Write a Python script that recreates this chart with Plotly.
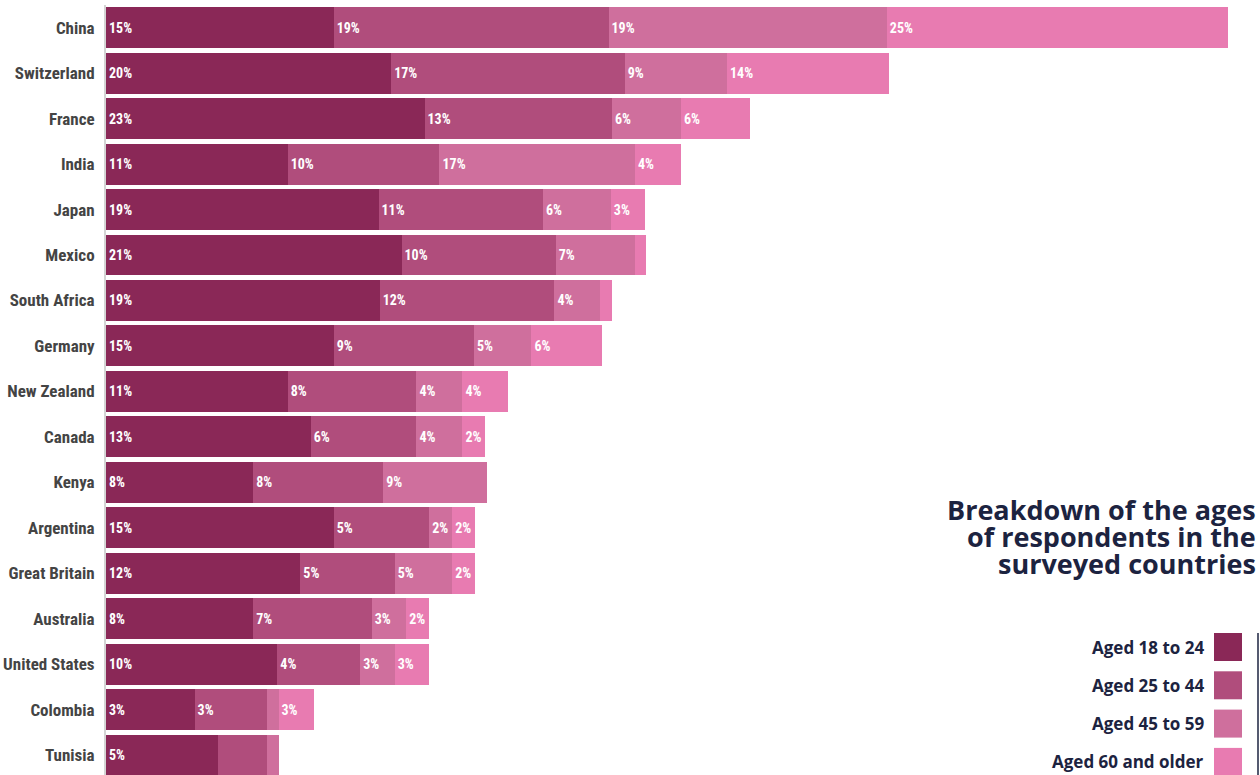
import plotly.graph_objects as go

# countries, top to bottom
countries = ["China", "Switzerland", "France", "India", "Japan", "Mexico", "South Africa",
             "Germany", "New Zealand", "Canada", "Kenya", "Argentina", "Great Britain",
             "Australia", "United States", "Colombia", "Tunisia"]

age_groups = ["Aged 18 to 24", "Aged 25 to 44", "Aged 45 to 59", "Aged 60 and older"]
colors = ["#8a2857", "#b04d7c", "#cf6f9d", "#e87bb1"]

# segment lengths as drawn in the picture
seg_18_24 = [19.8, 24.8, 27.7, 15.8, 23.7, 25.7, 23.8, 19.8, 15.8, 17.8, 12.8, 19.8, 16.9, 12.8, 14.9, 7.7, 9.7]
seg_25_44 = [23.9, 20.3, 16.3, 13.2, 14.3, 13.4, 15.2, 12.2, 11.2, 9.2, 11.3, 8.3, 8.2, 10.3, 7.2, 6.3, 4.3]
seg_45_59 = [24.2, 8.9, 6.0, 17.0, 5.9, 6.9, 4.0, 5.0, 4.0, 4.0, 9.0, 2.0, 5.0, 3.0, 3.0, 1.0, 1.0]
seg_60_up = [29.7, 14.1, 6.0, 4.0, 3.0, 1.0, 1.0, 6.1, 4.0, 2.0, 0.0, 2.0, 2.0, 2.0, 3.0, 3.1, 0.0]

# printed labels
lab_18_24 = ["15%", "20%", "23%", "11%", "19%", "21%", "19%", "15%", "11%", "13%", "8%", "15%", "12%", "8%", "10%", "3%", "5%"]
lab_25_44 = ["19%", "17%", "13%", "10%", "11%", "10%", "12%", "9%", "8%", "6%", "8%", "5%", "5%", "7%", "4%", "3%", ""]
lab_45_59 = ["19%", "9%", "6%", "17%", "6%", "7%", "4%", "5%", "4%", "4%", "9%", "2%", "5%", "3%", "3%", "", ""]
lab_60_up = ["25%", "14%", "6%", "4%", "3%", "", "", "6%", "4%", "2%", "", "2%", "2%", "2%", "3%", "3%", ""]

values = [seg_18_24, seg_25_44, seg_45_59, seg_60_up]
labels = [lab_18_24, lab_25_44, lab_45_59, lab_60_up]

cond = "Roboto Condensed, sans-serif"
wide = "Open Sans, sans-serif"
navy = "#1c2340"

fig = go.Figure()
for name, vals, labs, col in zip(age_groups, values, labels, colors):
    fig.add_trace(go.Bar(
        y=countries, x=vals, name=name, orientation="h",
        marker=dict(color=col, line=dict(width=0)),
        text=labs, textposition="inside", insidetextanchor="start",
        textangle=0, constraintext="none",
        textfont=dict(family=cond, size=14, color="white", weight="bold"),
        hoverinfo="skip", showlegend=False,
    ))

fig.update_layout(
    width=1260, height=775,
    barmode="stack", bargap=0.1,
    margin=dict(l=106, r=0, t=5, b=0),
    plot_bgcolor="white", paper_bgcolor="white",
    uniformtext=dict(minsize=14, mode="show"),
    xaxis=dict(range=[0, 100.35], visible=False, fixedrange=True),
    yaxis=dict(
        categoryorder="array", categoryarray=countries, automargin=False, fixedrange=True,
        range=[16.44, -0.5], showline=True, linecolor="#d4d4d4", linewidth=2,
        showgrid=False, zeroline=False, ticks="", ticklabelstandoff=6,
        tickfont=dict(family=cond, size=17, color="#444444", weight="bold"),
    ),
)

# title block
title_lines = ["Breakdown of the ages", "of respondents in the", "surveyed countries"]
for i, line in enumerate(title_lines):
    fig.add_annotation(
        text=line, xref="paper", yref="paper",
        x=(1258 - 106) / 1154, y=(775 - (509 + 27 * i)) / 770,
        xanchor="right", yanchor="middle", showarrow=False,
        font=dict(family=wide, size=27, color=navy, weight="bold"),
    )

# legend: label on the left, square on the right
for i, (name, col) in enumerate(zip(age_groups, colors)):
    yc = 647 + 38.3 * i
    fig.add_shape(type="rect", xref="paper", yref="paper",
                  x0=(1214 - 106) / 1154, x1=(1242 - 106) / 1154,
                  y0=(775 - (yc + 14)) / 770, y1=(775 - (yc - 14)) / 770,
                  fillcolor=col, line=dict(width=0))
    fig.add_annotation(
        text=name, xref="paper", yref="paper",
        x=(1206 - 106) / 1154, y=(775 - yc) / 770,
        xanchor="right", yanchor="middle", showarrow=False,
        font=dict(family=wide, size=17, color=navy, weight="bold"),
    )

fig.add_shape(type="line", xref="paper", yref="paper",
              x0=(1258 - 106) / 1154, x1=(1258 - 106) / 1154,
              y0=0, y1=(775 - 633) / 770, line=dict(color=navy, width=1.5))

fig.write_html("out.html", config={"displayModeBar": False},
               post_script="document.body.style.margin='0px';")
